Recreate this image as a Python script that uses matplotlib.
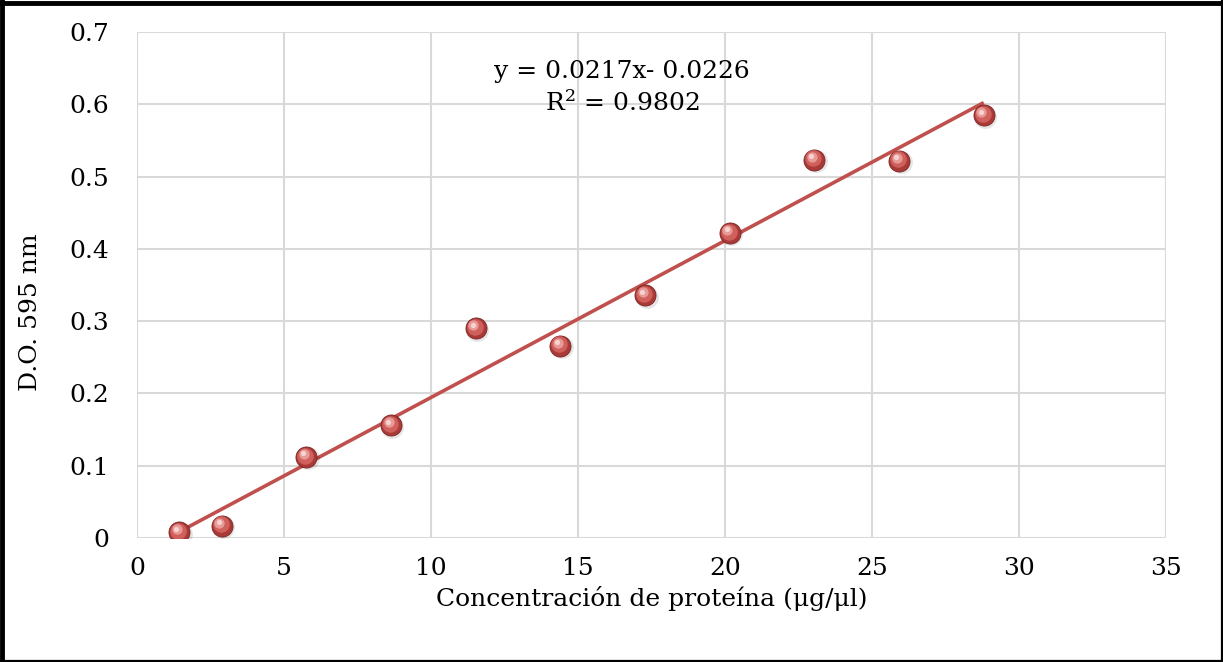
import matplotlib.pyplot as plt
import numpy as np
from matplotlib.lines import Line2D

# calibration data
conc = [1.44, 2.88, 5.76, 8.64, 11.52, 14.4, 17.28, 20.16, 23.04, 25.92, 28.8]
absorb = [0.008, 0.017, 0.112, 0.156, 0.290, 0.266, 0.336, 0.422, 0.523, 0.522, 0.585]
slope = 0.0217
intercept = -0.0226
r2 = 0.9802
x_ticks = [0, 5, 10, 15, 20, 25, 30, 35]
y_ticks = [0, 0.1, 0.2, 0.3, 0.4, 0.5, 0.6, 0.7]
y_ticklabels = ["0", "0.1", "0.2", "0.3", "0.4", "0.5", "0.6", "0.7"]

plt.rcParams["font.family"] = ["DejaVu Serif"]
plt.rcParams["mathtext.fontset"] = "dejavuserif"

fig = plt.figure(figsize=(12.23, 6.62), dpi=100)
ax = fig.add_axes([137 / 1223, 1 - 538 / 662, (1166 - 137) / 1223, (538 - 32) / 662])

# trendline over the data range
xs = np.array([min(conc), max(conc)])
ax.plot(xs, slope * xs + intercept, color="#c0504d", lw=2.6, zorder=3, solid_capstyle="butt")

# "sphere" markers: shadow, body, highlight
ax.scatter(np.array(conc) + 0.05, np.array(absorb) - 0.002, s=270, color="#000000", alpha=0.10,
           linewidths=0, zorder=4)
ax.scatter(conc, absorb, s=230, color="#a93a37", edgecolors="#7a2624", linewidths=0.6, zorder=5)
ax.scatter(np.array(conc) - 0.03, np.array(absorb) + 0.002, s=140, color="#d0605c", linewidths=0, zorder=6)
ax.scatter(np.array(conc) - 0.08, np.array(absorb) + 0.004, s=55, color="#e79a96", linewidths=0, zorder=7)
ax.scatter(np.array(conc) - 0.1, np.array(absorb) + 0.005, s=14, color="#f6d3d1", linewidths=0, zorder=8)

ax.text(16.5, 0.645, f"y = {slope}x- {abs(intercept)}", ha="center", va="center", fontsize=18)
ax.text(16.5, 0.601, f"R$^2$ = {r2}", ha="center", va="center", fontsize=18)

ax.set_xlim(0, 35)
ax.set_ylim(0, 0.7)
ax.set_xticks(x_ticks)
ax.set_yticks(y_ticks)
ax.set_yticklabels(y_ticklabels)
ax.grid(True, color="#d9d9d9", lw=1.5)
ax.set_axisbelow(True)
for s in ax.spines.values():
    s.set_visible(False)
ax.tick_params(axis="x", length=0, labelsize=18, pad=14)
ax.tick_params(axis="y", length=0, labelsize=18, pad=20)
ax.set_xlabel("Concentración de proteína (μg/μl)", fontsize=18, labelpad=4)
ax.set_ylabel("D.O. 595 nm", fontsize=18)
ax.yaxis.set_label_coords(-0.092, 0.447)

# black frame around the picture (thicker on top/left)
fig.add_artist(Line2D([0.002, 0.002], [0, 1], transform=fig.transFigure, color="black", lw=3.5))
fig.add_artist(Line2D([0, 1], [0.996, 0.996], transform=fig.transFigure, color="black", lw=3.5))
fig.add_artist(Line2D([0.999, 0.999], [0, 1], transform=fig.transFigure, color="black", lw=1.6))
fig.add_artist(Line2D([0, 1], [0.0015, 0.0015], transform=fig.transFigure, color="black", lw=1.6))

fig.savefig("out.png", dpi=100)
